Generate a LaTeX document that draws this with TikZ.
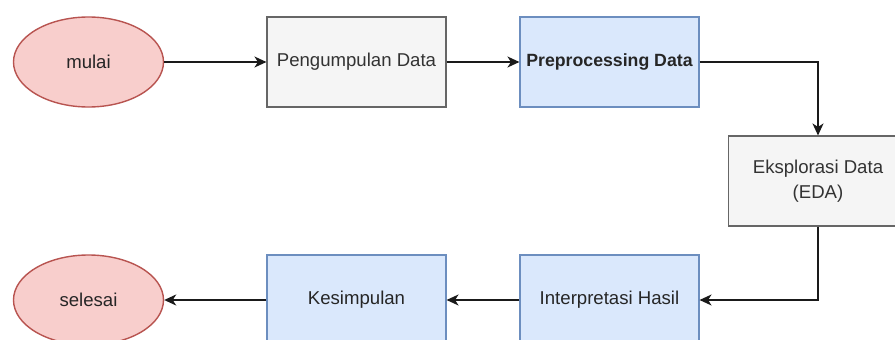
\documentclass[tikz,border=0pt]{standalone}
\usepackage{fontspec}
\setmainfont{Liberation Sans}
\usetikzlibrary{shapes.geometric,arrows.meta}

\definecolor{termfill}{HTML}{F8CECC}
\definecolor{termline}{HTML}{B85450}
\definecolor{grayfill}{HTML}{F5F5F5}
\definecolor{grayline}{HTML}{666666}
\definecolor{graytext}{HTML}{333333}
\definecolor{bluefill}{HTML}{DAE8FC}
\definecolor{blueline}{HTML}{6C8EBF}
\definecolor{edgecol}{HTML}{1A1A1A}

\tikzset{
  lbl/.style={font=\fontsize{18.6}{25}\selectfont, align=center},
  boldlbl/.style={font=\fontsize{17.7}{25}\selectfont\bfseries},
  terminal/.style={lbl, ellipse, draw=termline, fill=termfill, line width=1.4pt,
    minimum width=150pt, minimum height=90pt, inner sep=0pt, text=black!85},
  graybox/.style={lbl, rectangle, draw=grayline, fill=grayfill, line width=1.1pt,
    minimum width=179pt, minimum height=90pt, inner sep=0pt, text=graytext},
  bluebox/.style={lbl, rectangle, draw=blueline, fill=bluefill, line width=1.1pt,
    minimum width=179pt, minimum height=90pt, inner sep=0pt, text=black!85},
  flow/.style={draw=edgecol, line width=1.4pt, -{Stealth[length=12pt,width=11pt,inset=3.5pt]}}
}

\begin{document}
\begin{tikzpicture}[x=1pt, y=-1pt]
  \useasboundingbox (0,0) rectangle (895,340);
  \clip (0,0) rectangle (895,340);
  \fill[white] (0,0) rectangle (895,340);

  % top row
  \node[terminal] (start) at (88.5,62) {mulai};
  \node[graybox]  (collect) at (356.5,62) {Pengumpulan Data};
  \node[bluebox, boldlbl] (prep) at (609.5,62) {Preprocessing Data};

  % right column
  \node[graybox]  (eda) at (818,181) {Eksplorasi Data\\(EDA)};

  % bottom row
  \node[bluebox]  (interp) at (609.5,300) {Interpretasi Hasil};
  \node[bluebox]  (concl) at (356.5,300) {Kesimpulan};
  \node[terminal] (finish) at (88.5,300) {selesai};

  % connectors
  \draw[flow] (start) -- (collect);
  \draw[flow] (collect) -- (prep);
  \draw[flow] (prep.east) -| (eda.north);
  \draw[flow] (eda.south) |- (interp.east);
  \draw[flow] (interp) -- (concl);
  \draw[flow] (concl) -- (finish);
\end{tikzpicture}
\end{document}
